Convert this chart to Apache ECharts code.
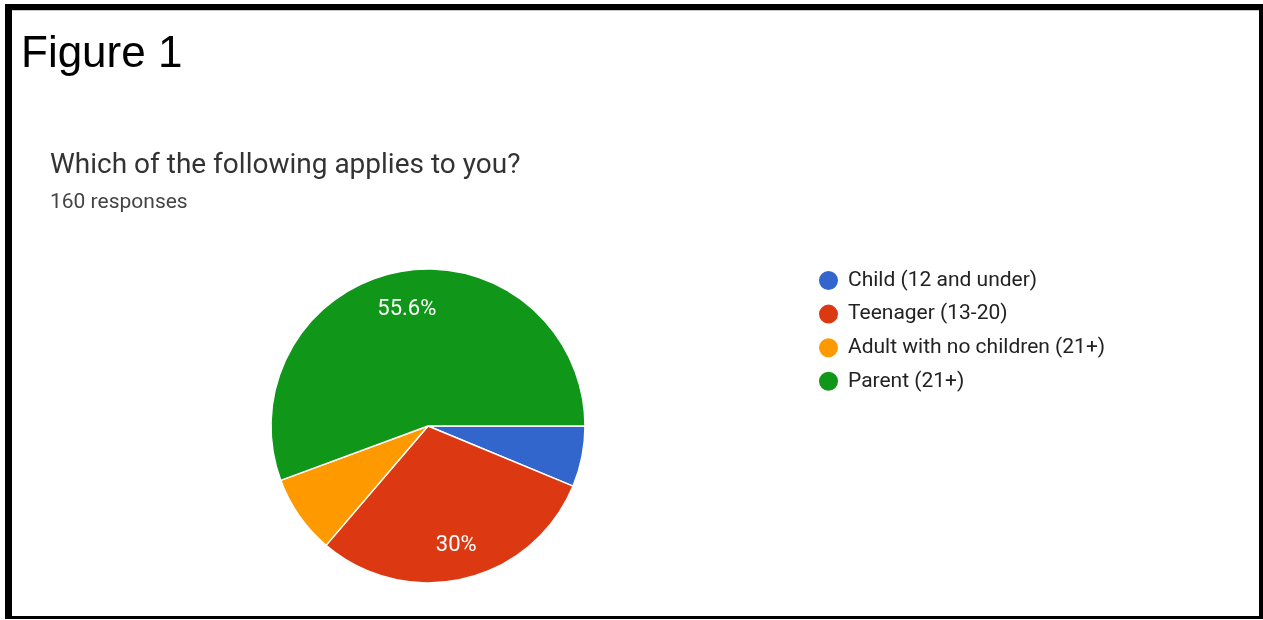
<!DOCTYPE html>
<html>
<head>
<meta charset="utf-8">
<script src="https://cdn.jsdelivr.net/npm/echarts@6/dist/echarts.min.js"></script>
<style>
  html, body { margin: 0; padding: 0; background: #fff; }
  #chart { position: absolute; left: 0; top: 0; width: 1263px; height: 620px; }
  #frame {
    position: absolute; left: 5px; top: 4px; width: 1258px; height: 615px;
    box-sizing: border-box;
    border-style: solid; border-color: #000;
    border-width: 6px 4px 3px 7px;
    pointer-events: none;
  }
  #frame::after {
    content: ""; position: absolute; left: 0; right: 0; top: 0; height: 1px; background: #c8c8c8;
  }
</style>
</head>
<body>
<div id="chart"></div>
<div id="frame"></div>
<script>
// Survey answers to "Which of the following applies to you?"
const categories = ['Child (12 and under)', 'Teenager (13-20)', 'Adult with no children (21+)', 'Parent (21+)'];
const responses = [10, 48, 13, 89];
const colors = ['#3366cc', '#dc3912', '#ff9900', '#109618'];

const pieData = categories.map((name, i) => ({ name, value: responses[i], itemStyle: { color: colors[i] } }));

const center = [428, 426];
const radius = 157;

const chart = echarts.init(document.getElementById('chart'), null, { renderer: 'canvas' });
chart.setOption({
  animation: false,
  backgroundColor: '#fff',
  title: [
    { text: 'Figure 1', left: 21, top: 33, padding: 0,
      textStyle: { fontFamily: 'Liberation Sans', fontSize: 44, fontWeight: 'normal', color: '#000' } },
    { text: 'Which of the following applies to you?', left: 50, top: 152, padding: 0,
      textStyle: { fontFamily: 'Roboto', fontSize: 28, fontWeight: 'normal', color: '#333' } },
    { text: '160 responses', left: 50, top: 192, padding: 0,
      textStyle: { fontFamily: 'Roboto', fontSize: 21, fontWeight: 'normal', color: '#444' } }
  ],
  legend: {
    orient: 'vertical',
    left: 817, top: 269, padding: 0,
    icon: 'circle',
    itemWidth: 21, itemHeight: 21,
    itemGap: 10.6,
    data: categories,
    textStyle: { fontFamily: 'Roboto', fontSize: 21, color: '#222', padding: [0, 0, 0, 4] }
  },
  series: [
    {
      type: 'pie',
      center: center,
      radius: [0, radius],
      startAngle: 0,
      clockwise: true,
      silent: true,
      label: { show: false },
      labelLine: { show: false },
      itemStyle: { borderColor: '#fff', borderWidth: 1.5 },
      data: pieData
    },
    {
      // label ring: places percentages at about 3/4 of the radius
      type: 'pie',
      center: center,
      radius: [radius * 0.5, radius],
      startAngle: 0,
      clockwise: true,
      silent: true,
      legendHoverLink: false,
      percentPrecision: 1,
      itemStyle: { color: 'rgba(0,0,0,0)', borderWidth: 0 },
      label: {
        show: true,
        position: 'inside',
        offset: [0, 2.5],
        fontFamily: 'Roboto',
        fontSize: 22,
        color: '#fff',
        formatter: p => (p.percent >= 10 ? p.percent + '%' : '')
      },
      labelLine: { show: false },
      data: categories.map((name, i) => ({ name: name, value: responses[i] }))
    }
  ]
});
</script>
</body>
</html>
